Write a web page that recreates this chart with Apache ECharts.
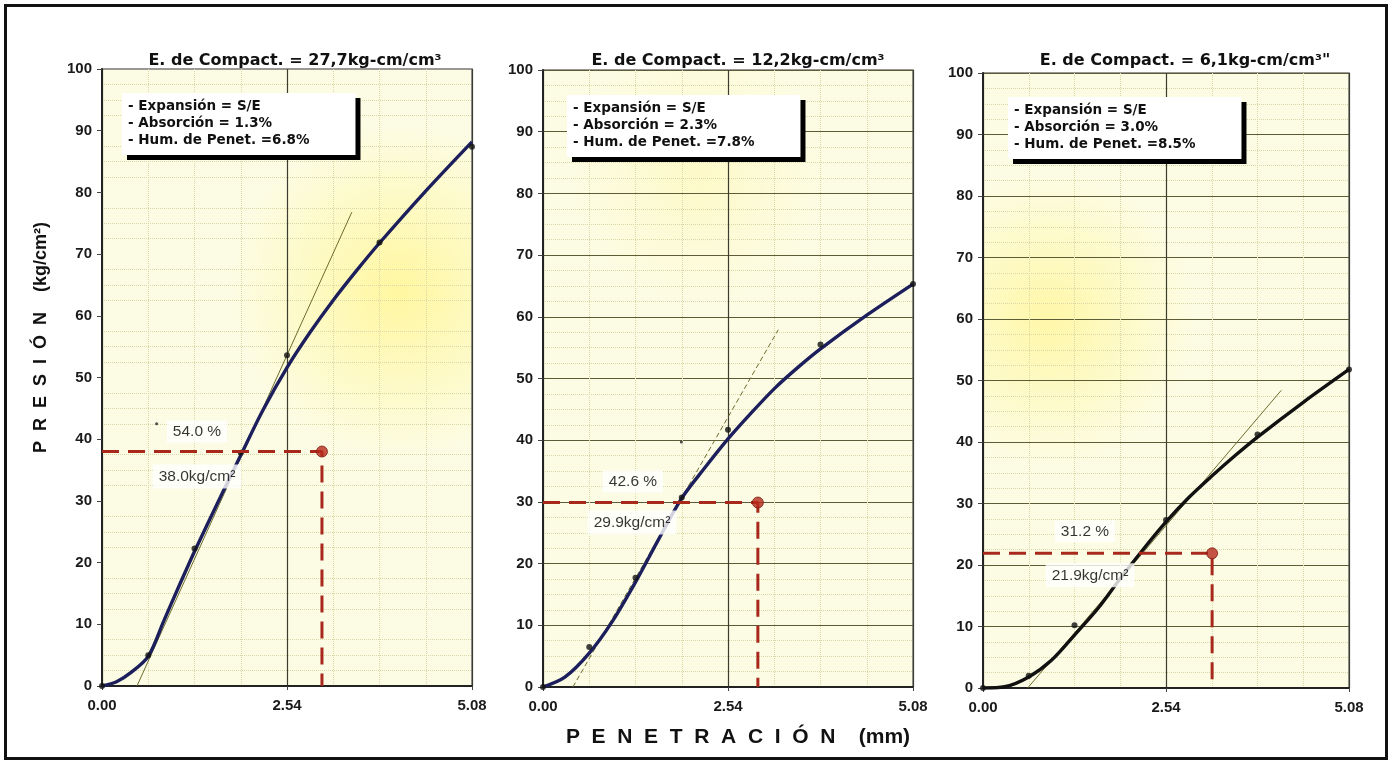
<!DOCTYPE html>
<html>
<head>
<meta charset="utf-8">
<script src="https://cdn.jsdelivr.net/npm/echarts@6/dist/echarts.min.js"></script>
<style>
  html, body { margin: 0; padding: 0; background: #fff; }
  #chart { width: 1396px; height: 760px; }
</style>
</head>
<body>
<div id="chart"></div>
<script>
// Penetration (mm) tick values shared by the three panels
const xTicks = [0, 2.54, 5.08];

// Compaction energy per specimen (kg-cm/cm³)
const compactEnergy = ['27,7', '12,2', '6,1'];
const titleSuffix = ['', '', '"'];
const expansion = ['S/E', 'S/E', 'S/E'];
const absorption = ['1.3', '2.3', '3.0'];
const penetHumidity = ['6.8', '7.8', '8.5'];

// Measured readings [penetration mm, pressure kg/cm²]
const readings1 = [[0, 0], [0.635, 5.0], [1.27, 22.3], [1.905, 37.8], [2.54, 53.6], [3.81, 71.9], [5.08, 87.4]];
const readings2 = [[0, 0], [0.635, 6.5], [1.27, 17.7], [1.905, 30.7], [2.54, 41.7], [3.81, 55.5], [5.08, 65.3]];
const readings3 = [[0, 0], [0.635, 2.0], [1.27, 10.2], [2.54, 27.3], [3.81, 41.2], [5.08, 51.8]];

// Fitted pressure–penetration curves
const curve1 = [[0, 0], [0.2, 0.7], [0.4, 2.2], [0.635, 4.8], [0.85, 10.6], [1.05, 16], [1.27, 21.8], [1.6, 30], [1.905, 37.4], [2.2, 44.5], [2.54, 51.6], [2.85, 57.2], [3.18, 62.6], [3.5, 67.4], [3.81, 71.8], [4.45, 80.3], [5.08, 88.2]];
const curve2 = [[0, 0], [0.3, 1.6], [0.635, 5.5], [0.95, 10.6], [1.27, 17], [1.6, 24.2], [1.905, 30.6], [2.2, 35.2], [2.54, 40.2], [2.85, 44.3], [3.18, 48.4], [3.5, 51.8], [3.81, 54.8], [4.45, 60.3], [5.08, 65.3]];
const curve3 = [[0, 0], [0.3, 0.2], [0.635, 1.8], [0.95, 4.5], [1.27, 8.6], [1.6, 13], [1.905, 17.8], [2.2, 22.2], [2.54, 27], [2.85, 30.9], [3.18, 34.5], [3.5, 37.8], [3.81, 40.8], [4.45, 46.5], [5.08, 51.8]];

// Correction tangents [start, end]
const tangent1 = [[0.48, 0], [3.43, 76.8]];
const tangent2 = [[0.41, 0], [3.23, 57.9]];
const tangent3 = [[0.62, 0], [4.14, 48.4]];

// Corrected pressure and where it is read
const corrPressure = [38.0, 29.9, 21.9];
const corrPenetration = [3.02, 2.95, 3.18];
const cbrPercent = [54.0, 42.6, 31.2];

// Loose specks on the sheet
const specks1 = [[0.75, 42.5]];
const specks2 = [[1.9, 39.7]];

const readings = [readings1, readings2, readings3];
const curves = [curve1, curve2, curve3];
const tangents = [tangent1, tangent2, tangent3];
const specks = [specks1, specks2, []];

const gridBoxes = [
  { left: 102, top: 69, width: 370, height: 617 },
  { left: 543, top: 70, width: 370, height: 617 },
  { left: 983, top: 73, width: 366, height: 615 }
];
const glows = [
  { x: 0.80, y: 0.36, r: 0.45, a: '#fff7a0' },
  { x: 0.42, y: 0.17, r: 0.35, a: '#fdf9c8' },
  { x: 0.18, y: 0.40, r: 0.40, a: '#fff7a8' }
];
const curveColors = ['#1c1f5c', '#1c1f5c', '#111111'];
const tangentTypes = ['solid', [5, 3], 'solid'];
const majorHoriz = [false, true, true];
const labelOffsets = [
  { pct: [95, -20], kg: [95, 25] },
  { pct: [90, -21], kg: [89, 20] },
  { pct: [102, -22], kg: [107, 22] }
];
const boxes = [
  { left: 122, top: 93 },
  { left: 567, top: 95 },
  { left: 1008, top: 97 }
];
const titleCenters = [290, 733, 1180];
const FONT = '"Liberation Sans", Arial, sans-serif';
const WIDE = '"DejaVu Sans", Verdana, sans-serif';

const grids = [], xAxes = [], yAxes = [], series = [], titles = [];

for (let i = 0; i < 3; i++) {
  const g = glows[i];
  grids.push(Object.assign({
    show: true,
    borderColor: '#777',
    borderWidth: 1.5,
    backgroundColor: {
      type: 'radial', x: g.x, y: g.y, r: g.r,
      colorStops: [{ offset: 0, color: g.a }, { offset: 1, color: '#fcfce4' }]
    }
  }, gridBoxes[i]));

  xAxes.push({
    type: 'value', gridIndex: i, min: 0, max: 5.08, interval: 2.54,
    axisLine: { show: true, onZero: false, lineStyle: { color: '#222', width: 2 } },
    axisTick: { show: true, length: 4, lineStyle: { color: '#444' } },
    axisLabel: { fontFamily: FONT, fontSize: 15, fontWeight: 'bold', color: '#1a1a1a', margin: 12,
      formatter: v => xTicks.indexOf(v) >= 0 ? v.toFixed(2) : '' },
    splitLine: { show: true, lineStyle: { color: '#3c3c30', width: 1.2 } },
    minorTick: { show: false, splitNumber: 4 },
    minorSplitLine: { show: true, lineStyle: { color: '#d9d8a6', type: 'dotted', width: 1 } },
    name: i === 1 ? 'P  E  N  E  T  R  A  C  I  Ó  N    (mm)' : '',
    nameLocation: 'middle', nameGap: 40,
    nameTextStyle: { fontFamily: FONT, fontSize: 21, fontWeight: 'bold', color: '#111', padding: [0, 0, 0, 20] }
  });

  yAxes.push({
    type: 'value', gridIndex: i, min: 0, max: 100, interval: 10,
    axisLine: { show: true, lineStyle: { color: '#222', width: 2 } },
    axisTick: { show: true, length: 5, lineStyle: { color: '#444' } },
    axisLabel: { fontFamily: FONT, fontSize: 15, fontWeight: 'bold', color: '#1a1a1a', margin: 10 },
    splitLine: { show: majorHoriz[i], lineStyle: { color: '#5c5c36', width: 1.2 } },
    minorTick: { show: false, splitNumber: 4 },
    minorSplitLine: { show: true, lineStyle: { color: '#d9d8a6', type: 'dotted', width: 1 } }
  });

  // tangent used for the origin correction
  series.push({
    type: 'line', xAxisIndex: i, yAxisIndex: i, data: tangents[i],
    symbol: 'none', silent: true, z: 3,
    lineStyle: { color: '#6d6b2c', width: 1, type: tangentTypes[i] }
  });
  // fitted curve
  series.push({
    type: 'line', xAxisIndex: i, yAxisIndex: i, data: curves[i],
    smooth: 0.3, symbol: 'none', silent: true, z: 4,
    lineStyle: { color: curveColors[i], width: 3.4 }
  });
  // measured readings
  series.push({
    type: 'scatter', xAxisIndex: i, yAxisIndex: i, data: readings[i],
    symbolSize: 6, z: 5, itemStyle: { color: '#111' }
  });
  // specks
  series.push({
    type: 'scatter', xAxisIndex: i, yAxisIndex: i, data: specks[i],
    symbolSize: 3, z: 5, itemStyle: { color: '#222' }
  });
  // corrected pressure guide
  const p = corrPressure[i], x = corrPenetration[i];
  series.push({
    type: 'line', xAxisIndex: i, yAxisIndex: i,
    data: [[0, p], [x, p], [x, 0]],
    symbol: 'none', silent: true, z: 6,
    lineStyle: { color: '#a8281c', width: 3, type: [17, 9] }
  });
  series.push({
    type: 'scatter', xAxisIndex: i, yAxisIndex: i, data: [[x, p]],
    symbolSize: 11, z: 7,
    itemStyle: { color: '#b52a1c', borderColor: '#7a1a10', borderWidth: 1 }
  });
  // value labels anchored on the pressure axis
  const off = labelOffsets[i];
  series.push({
    type: 'scatter', xAxisIndex: i, yAxisIndex: i, data: [[0, p]],
    symbolSize: 1, z: 8, itemStyle: { color: 'rgba(0,0,0,0)' },
    label: {
      show: true, position: 'inside', offset: off.pct,
      formatter: () => cbrPercent[i].toFixed(1) + ' %',
      fontFamily: FONT, fontSize: 15.5, color: '#000',
      backgroundColor: '#ffffff', padding: [3, 6]
    }
  });
  series.push({
    type: 'scatter', xAxisIndex: i, yAxisIndex: i, data: [[0, p]],
    symbolSize: 1, z: 8, itemStyle: { color: 'rgba(0,0,0,0)' },
    label: {
      show: true, position: 'inside', offset: off.kg,
      formatter: () => p.toFixed(1) + 'kg/cm²',
      fontFamily: FONT, fontSize: 15.5, color: '#000',
      backgroundColor: '#ffffff', padding: [4, 6]
    }
  });

  titles.push({
    text: 'E. de Compact. = ' + compactEnergy[i] + 'kg-cm/cm³' + titleSuffix[i],
    left: titleCenters[i], top: 48, textAlign: 'center',
    textStyle: { fontFamily: WIDE, fontSize: 16, fontWeight: 'bold', color: '#111' }
  });
  const b = boxes[i];
  titles.push({
    text: '- Expansión = ' + expansion[i] + '\n- Absorción = ' + absorption[i] + '%\n- Hum. de Penet. =' + penetHumidity[i] + '%',
    left: b.left, top: b.top,
    padding: [5, 46, 6, 6],
    backgroundColor: '#ffffff',
    shadowColor: '#000', shadowBlur: 0, shadowOffsetX: 5, shadowOffsetY: 5,
    textStyle: { fontFamily: WIDE, fontSize: 13.5, fontWeight: 'bold', color: '#111', lineHeight: 17 }
  });
}

const chart = echarts.init(document.getElementById('chart'), null, { renderer: 'canvas' });
chart.setOption({
  backgroundColor: '#ffffff',
  animation: false,
  title: titles,
  grid: grids,
  xAxis: xAxes,
  yAxis: yAxes,
  series: series,
  graphic: [
    {
      type: 'rect', left: 3, top: 3, silent: true,
      shape: { width: 1381, height: 753 },
      style: { fill: 'none', stroke: '#111', lineWidth: 3 }
    },
    {
      type: 'text', left: 32, top: 222, rotation: Math.PI / 2, silent: true,
      style: {
        text: 'P  R  E  S  I  Ó  N    (kg/cm²)',
        font: 'bold 18px "Liberation Sans", Arial, sans-serif', fill: '#111'
      }
    }
  ]
});
</script>
</body>
</html>
